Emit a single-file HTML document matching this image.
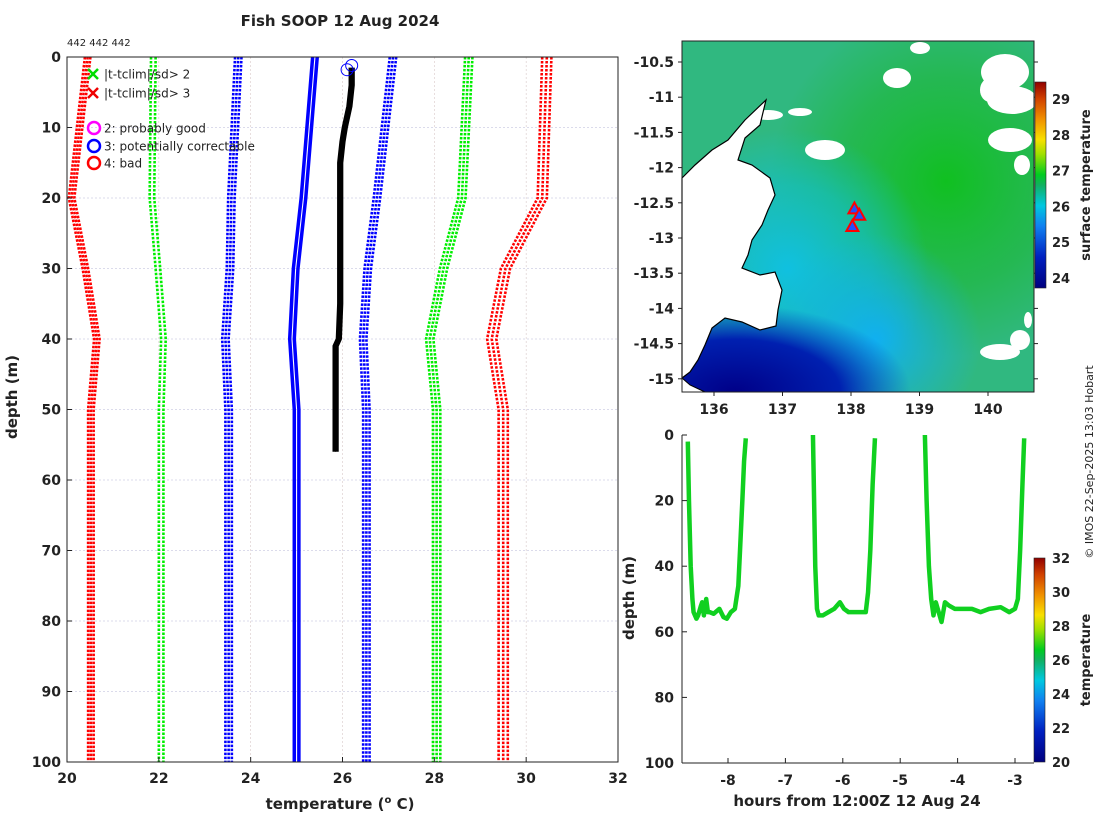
<!DOCTYPE html>
<html><head><meta charset="utf-8">
<style>
body{margin:0;background:#fff;font-family:"Liberation Sans","DejaVu Sans",sans-serif;}
svg text{font-family:"DejaVu Sans","Liberation Sans",sans-serif;}
</style></head>
<body>
<svg id="s" width="1100" height="820" viewBox="0 0 1100 820" xmlns="http://www.w3.org/2000/svg">
<defs>
<linearGradient id="jet" x1="0" y1="1" x2="0" y2="0">
<stop offset="0" stop-color="#00007f"/><stop offset="0.15" stop-color="#0020c0"/><stop offset="0.3" stop-color="#1080f0"/><stop offset="0.4" stop-color="#00c8e0"/><stop offset="0.5" stop-color="#10b060"/><stop offset="0.55" stop-color="#00cc20"/><stop offset="0.65" stop-color="#a0e000"/><stop offset="0.72" stop-color="#f8e000"/><stop offset="0.82" stop-color="#f09000"/><stop offset="0.92" stop-color="#d04000"/><stop offset="1" stop-color="#900000"/>
</linearGradient>
<radialGradient id="grn" cx="0.75" cy="0.4" r="0.5">
<stop offset="0" stop-color="#10c020"/><stop offset="0.6" stop-color="#20b840" stop-opacity="0.7"/><stop offset="1" stop-color="#20b840" stop-opacity="0"/>
</radialGradient>
<radialGradient id="cyan" cx="0.3" cy="0.65" r="0.4">
<stop offset="0" stop-color="#10c0e0"/><stop offset="0.6" stop-color="#10c0d0" stop-opacity="0.6"/><stop offset="1" stop-color="#10c0d0" stop-opacity="0"/>
</radialGradient>
<radialGradient id="lb" cx="0.55" cy="0.85" r="0.3">
<stop offset="0" stop-color="#10b0f0"/><stop offset="1" stop-color="#10b0f0" stop-opacity="0"/>
</radialGradient>
<radialGradient id="deep" cx="0.15" cy="1" r="0.5" gradientTransform="translate(0.15 1) scale(1 0.5) translate(-0.15 -1)">
<stop offset="0" stop-color="#000088"/><stop offset="0.6" stop-color="#0020b0"/><stop offset="1" stop-color="#0040d0" stop-opacity="0"/>
</radialGradient>
</defs>
<text x="340" y="26" text-anchor="middle" font-size="15" font-weight="bold" fill="#222">Fish SOOP 12 Aug 2024</text>
<text x="67" y="46" font-size="10" fill="#222">442 442 442</text>
<g id="left"></g>
<g id="map"></g>
<g id="bot"></g>
<text transform="translate(1093,462) rotate(-90)" text-anchor="middle" font-size="11" fill="#222">© IMOS 22-Sep-2025 13:03 Hobart</text>
</svg>
<script>
const NS="http://www.w3.org/2000/svg";
function mk(p,tag,a){const e=document.createElementNS(NS,tag);for(const k in a)e.setAttribute(k,a[k]);p.appendChild(e);return e;}

// ---- Left profile plot data ----
const climDepths=[0,20,30,40,50,100];
const redLo=[20.45,20.1,20.4,20.65,20.52,20.52];
const greenLo=[21.88,21.85,21.98,22.1,22.05,22.05];
const blueLo=[23.73,23.58,23.55,23.45,23.52,23.52];
const meanT=[25.4,25.15,24.98,24.9,25.0,25.0];
const blueHi=[27.1,26.75,26.55,26.45,26.52,26.52];
const greenHi=[28.75,28.6,28.2,27.9,28.05,28.05];
const redHi=[30.45,30.35,29.55,29.25,29.5,29.5];
const obsDepth=[1.5,4,7,10,12,15,25,35,40,41,45,53,56];
const obsTemp=[26.2,26.2,26.15,26.05,26.0,25.95,25.95,25.95,25.92,25.85,25.85,25.85,25.85];
const tTicks=[20,22,24,26,28,30,32];
const dTicks=[0,10,20,30,40,50,60,70,80,90,100];

const L=document.getElementById('left');
const LX0=67,LX1=618,LY0=57,LY1=762;
const xT=t=>LX0+(t-20)/12*(LX1-LX0);
const yD=d=>LY0+d/100*(LY1-LY0);
dTicks.forEach(d=>{if(d>0&&d<100){const g=mk(L,'line',{x1:LX0,x2:LX1,y1:yD(d),y2:yD(d),stroke:'#b8b8d8','stroke-width':0.6,'stroke-dasharray':'2 2'});}});
tTicks.forEach(t=>{if(t>20&&t<32){const g=mk(L,'line',{x1:xT(t),x2:xT(t),y1:LY0,y2:LY1,stroke:'#d8c8c8','stroke-width':0.6,'stroke-dasharray':'2 2'});}});
function band(arr,col,offs,name,dash,w){offs.forEach(o=>{const pts=arr.map((t,i)=>xT(t+o)+','+yD(climDepths[i])).join(' ');const p=mk(L,'polyline',{points:pts,fill:'none',stroke:col,'stroke-width':w||2.6,'stroke-dasharray':dash||'2.5 1.5'});});}
band(redLo,'#ff0000',[-0.06,0,0.06],'clim-minus-3sd');
band(greenLo,'#00ee00',[-0.05,0.05],'clim-minus-2sd');
band(blueLo,'#0000ff',[-0.07,0,0.07],'clim-minus-1sd');
band(meanT,'#0000ff',[-0.05,0.05],'clim-mean','none',3.5);
band(blueHi,'#0000ff',[-0.07,0,0.07],'clim-plus-1sd');
band(greenHi,'#00ee00',[-0.08,0,0.08],'clim-plus-2sd');
band(redHi,'#ff0000',[-0.1,0,0.1],'clim-plus-3sd');
[-0.03,0.03].forEach(o=>{const p=mk(L,'polyline',{points:obsTemp.map((t,i)=>xT(t+o)+','+yD(obsDepth[i])).join(' '),fill:'none',stroke:'#000','stroke-width':3.5});});
[[26.1,1.8],[26.2,1.2]].forEach(c=>{const e=mk(L,'circle',{cx:xT(c[0]),cy:yD(c[1]),r:6,fill:'none',stroke:'#0000ff','stroke-width':1});});
const fr=mk(L,'rect',{x:LX0,y:LY0,width:LX1-LX0,height:LY1-LY0,fill:'none',stroke:'#222','stroke-width':1});
dTicks.forEach(d=>{mk(L,'line',{x1:LX0,x2:LX0+5,y1:yD(d),y2:yD(d),stroke:'#222'});const t=mk(L,'text',{x:LX0-6,y:yD(d)+5,'text-anchor':'end','font-size':14,'font-weight':'bold',fill:'#222'});t.textContent=d;});
tTicks.forEach(v=>{mk(L,'line',{x1:xT(v),x2:xT(v),y1:LY1,y2:LY1-5,stroke:'#222'});const t=mk(L,'text',{x:xT(v),y:LY1+21,'text-anchor':'middle','font-size':14,'font-weight':'bold',fill:'#222'});t.textContent=v;});
let t=mk(L,'text',{x:340,y:809,'text-anchor':'middle','font-size':15,'font-weight':'bold',fill:'#222'});t.innerHTML='temperature (<tspan font-size="10" dy="-6">o</tspan><tspan dy="6"> C)</tspan>';
t=mk(L,'text',{transform:'translate(17,397) rotate(-90)','text-anchor':'middle','font-size':15,'font-weight':'bold',fill:'#222'});t.textContent='depth (m)';
const leg=[['x','#00dd00','|t-tclim|/sd> 2',74],['x','#ee0000','|t-tclim|/sd> 3',93],['o','#ff00ff','2: probably good',128],['o','#0000ff','3: potentially correctable',146],['o','#ff0000','4: bad',163]];
leg.forEach(l=>{const g=mk(L,'g',{});
if(l[0]=='x'){mk(g,'path',{d:`M88 ${l[3]-5} l10 10 M98 ${l[3]-5} l-10 10`,stroke:l[1],'stroke-width':2.5});}
else mk(g,'circle',{cx:94,cy:l[3],r:6,fill:'none',stroke:l[1],'stroke-width':2.5});
const tx=mk(g,'text',{x:104,y:l[3]+4.5,'font-size':12,fill:'#222'});tx.textContent=l[2];});

// ---- Map ----
const M=document.getElementById('map');
const MX0=682,MX1=1034,MY0=41,MY1=392;
const lonTicks=[136,137,138,139,140];
const latTicks=[-10.5,-11,-11.5,-12,-12.5,-13,-13.5,-14,-14.5,-15];
const shipLon=[138.05,138.12,138.02];
const shipLat=[-12.58,-12.67,-12.83];
const xL=lo=>714+(lo-136)*68.5;
const yLa=la=>62+(-10.5-la)*70.4;
mk(M,'rect',{x:MX0,y:MY0,width:MX1-MX0,height:MY1-MY0,fill:'#30b880'});
mk(M,'rect',{x:MX0,y:MY0,width:MX1-MX0,height:MY1-MY0,fill:'url(#grn)'});
mk(M,'rect',{x:MX0,y:MY0,width:MX1-MX0,height:MY1-MY0,fill:'url(#cyan)'});
mk(M,'rect',{x:MX0,y:MY0,width:MX1-MX0,height:MY1-MY0,fill:'url(#lb)'});
mk(M,'rect',{x:MX0,y:MY0,width:MX1-MX0,height:MY1-MY0,fill:'url(#deep)'});
[[1005,72,24,18],[1012,100,25,14],[990,90,10,12],[897,78,14,10],[825,150,20,10],[768,115,15,5],[800,112,12,4],[1010,140,22,12],[1022,165,8,10],[920,48,10,6],[1000,352,20,8],[1020,340,10,10],[1028,320,4,8]].forEach(c=>{const e=mk(M,'ellipse',{cx:c[0],cy:c[1],rx:c[2],ry:c[3],fill:'#fff'});});
const land=mk(M,'path',{d:'M682 178 L695 165 L712 150 L728 140 L745 120 L766 100 L760 125 L745 138 L738 160 L752 165 L770 178 L775 195 L768 210 L762 225 L752 240 L748 255 L742 268 L760 275 L775 272 L782 290 L778 310 L776 326 L760 330 L742 322 L725 318 L712 328 L705 345 L698 360 L690 372 L682 378 Z',fill:'#fff',stroke:'#000','stroke-width':1.2});
mk(M,'path',{d:'M682 378 L682 392 L705 392 L690 385 Z',fill:'#fff',stroke:'#000','stroke-width':1});
shipLon.forEach((lo,i)=>{const x=xL(lo),y=yLa(shipLat[i]);const p=mk(M,'path',{d:`M${x} ${y-6} L${x+6} ${y+5} L${x-6} ${y+5} Z`,fill:'#2050ff',stroke:'#ff0000','stroke-width':2});});
const mf=mk(M,'rect',{x:MX0,y:MY0,width:MX1-MX0,height:MY1-MY0,fill:'none',stroke:'#222'});
lonTicks.forEach(v=>{mk(M,'line',{x1:xL(v),x2:xL(v),y1:MY1,y2:MY1+4,stroke:'#222'});const tt=mk(M,'text',{x:xL(v),y:MY1+22,'text-anchor':'middle','font-size':14,'font-weight':'bold',fill:'#222'});tt.textContent=v;});
latTicks.forEach(v=>{mk(M,'line',{x1:MX0-4,x2:MX0,y1:yLa(v),y2:yLa(v),stroke:'#222'});mk(M,'line',{x1:MX1,x2:MX1+4,y1:yLa(v),y2:yLa(v),stroke:'#222'});const tt=mk(M,'text',{x:MX0-8,y:yLa(v)+5,'text-anchor':'end','font-size':14,'font-weight':'bold',fill:'#222'});tt.textContent=v;});
const cbTicks=[24,25,26,27,28,29];
const cbY=v=>278-(v-24)*35.8;
const cb=mk(M,'rect',{x:1035,y:82,width:11,height:206,fill:'url(#jet)',stroke:'#222','stroke-width':0.6});
cbTicks.forEach(v=>{const tt=mk(M,'text',{x:1052,y:cbY(v)+5,'font-size':13,'font-weight':'bold',fill:'#222'});tt.textContent=v;});
t=mk(M,'text',{transform:'translate(1090,185) rotate(-90)','text-anchor':'middle','font-size':13,'font-weight':'bold',fill:'#222'});t.textContent='surface temperature';

// ---- Bottom depth-time ----
const B=document.getElementById('bot');
const hrs=[-8.7,-8.68,-8.65,-8.62,-8.6,-8.55,-8.52,-8.47,-8.45,-8.42,-8.38,-8.35,-8.32,-8.25,-8.15,-8.08,-8.02,-7.95,-7.88,-7.82,-7.79,-7.75,-7.72,-7.69,null,-6.52,-6.5,-6.48,-6.45,-6.42,-6.35,-6.25,-6.15,-6.05,-5.98,-5.9,-5.8,-5.6,-5.56,-5.52,-5.48,-5.44,null,-4.57,-4.54,-4.5,-4.46,-4.42,-4.38,-4.33,-4.28,-4.22,-4.15,-4.05,-3.9,-3.75,-3.6,-3.45,-3.25,-3.1,-3.0,-2.95,-2.91,-2.87,-2.84];
const dep=[2,20,40,50,54,56,55,52,51,55,50,54,54,54.5,53,55.5,56,54,53,46,35,20,8,1,null,0,20,40,53,55,55,54,53,51,53,54,54,54,48,35,15,1,null,0,20,40,50,55,51,54,57,51,52,53,53,53,54,53,52.5,54,53,50,35,15,1];
const bTicksX=[-8,-7,-6,-5,-4,-3];
const bTicksY=[0,20,40,60,80,100];
const BX0=682,BX1=1034,BY0=435,BY1=763;
const xH=h=>1015+(h+3)*57.4;
const yB=d=>BY0+d/100*(BY1-BY0);
let seg=[];const segs=[];hrs.forEach((h,i)=>{if(h===null){segs.push(seg);seg=[];}else seg.push(xH(h)+','+yB(dep[i]));});segs.push(seg);
segs.forEach(s=>{const p=mk(B,'polyline',{points:s.join(' '),fill:'none',stroke:'#10d020','stroke-width':4.5,'stroke-linejoin':'round'});});
mk(B,'line',{x1:BX0,x2:BX0,y1:BY0,y2:BY1,stroke:'#222'});mk(B,'line',{x1:BX0,x2:BX1,y1:BY1,y2:BY1,stroke:'#222'});
bTicksX.forEach(v=>{mk(B,'line',{x1:xH(v),x2:xH(v),y1:BY1,y2:BY1-5,stroke:'#222'});const tt=mk(B,'text',{x:xH(v),y:BY1+22,'text-anchor':'middle','font-size':14,'font-weight':'bold',fill:'#222'});tt.textContent=v;});
bTicksY.forEach(v=>{mk(B,'line',{x1:BX0,x2:BX0+5,y1:yB(v),y2:yB(v),stroke:'#222'});const tt=mk(B,'text',{x:BX0-8,y:yB(v)+5,'text-anchor':'end','font-size':14,'font-weight':'bold',fill:'#222'});tt.textContent=v;});
t=mk(B,'text',{x:857,y:806,'text-anchor':'middle','font-size':15,'font-weight':'bold',fill:'#222'});t.textContent='hours from 12:00Z 12 Aug 24';
t=mk(B,'text',{transform:'translate(634,598) rotate(-90)','text-anchor':'middle','font-size':15,'font-weight':'bold',fill:'#222'});t.textContent='depth (m)';
const cb2Ticks=[20,22,24,26,28,30,32];
const cb2Y=v=>762-(v-20)/12*204;
const cb2=mk(B,'rect',{x:1034,y:558,width:11,height:204,fill:'url(#jet)',stroke:'#222','stroke-width':0.6});
cb2Ticks.forEach(v=>{const tt=mk(B,'text',{x:1052,y:cb2Y(v)+5,'font-size':13,'font-weight':'bold',fill:'#222'});tt.textContent=v;});
t=mk(B,'text',{transform:'translate(1090,660) rotate(-90)','text-anchor':'middle','font-size':13,'font-weight':'bold',fill:'#222'});t.textContent='temperature';
</script>
</body></html>
